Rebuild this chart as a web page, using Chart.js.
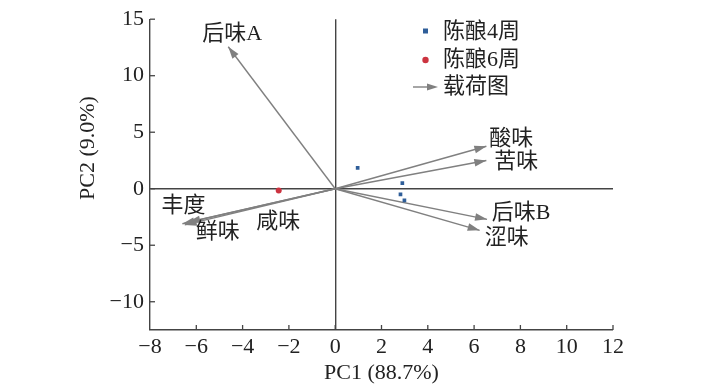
<!DOCTYPE html>
<html><head><meta charset="utf-8">
<script src="https://cdn.jsdelivr.net/npm/chart.js@4/dist/chart.umd.min.js"></script>
<style>html,body{margin:0;padding:0;background:#fff}#wrap{width:702px;height:389px}</style>
</head><body><div id="wrap"><canvas id="c" width="702" height="389"></canvas></div>
<script>
// ---- data ----
const xTicks = [-8,-6,-4,-2,0,2,4,6,8,10,12];
const yTicks = [-10,-5,0,5,10,15];
const week4X = [0.97, 2.90, 2.82, 2.99];
const week4Y = [1.85, 0.49, -0.50, -1.03];
const week6X = [-2.44];
const week6Y = [-0.15];
const loadNames = ['后味A','酸味','苦味','后味B','涩味','丰度','鲜味','咸味'];
const loadX = [-4.62, 6.53, 6.53, 6.56, 6.24, -6.60, -6.50, -6.35];
const loadY = [12.56, 3.76, 2.50, -2.71, -3.68, -3.10, -3.20, -2.95];
const seriesNames = ['陈酿4周','陈酿6周','载荷图'];
const xTitle = 'PC1 (88.7%)';
const yTitle = 'PC2 (9.0%)';

// ---- styles ----
const FONT = "22px 'Liberation Serif','Noto Sans CJK SC',serif";
const TXT = '#222';
const AXIS = '#444';
const ARROW = '#808080';
const BLUE = '#2f5e99';
const RED = '#cc3340';
const labelOffsets = [[4,-13],[25,-7],[30,2],[34,-6],[27,8],[1,-18],[33,7],[90,0]];
const fmt = v => (v < 0 ? '\u2212' + Math.abs(v) : String(v));

const datasets = [
  {label: seriesNames[0], data: week4X.map((x,i)=>({x, y: week4Y[i]})), pointStyle:'rect', pointRadius:2.6, backgroundColor:BLUE, borderWidth:0},
  {label: seriesNames[1], data: week6X.map((x,i)=>({x, y: week6Y[i]})), pointStyle:'circle', pointRadius:3, backgroundColor:RED, borderWidth:0}
];
loadNames.forEach((n,i)=>{
  datasets.push({type:'line', label:n, data:[{x:0,y:0},{x:loadX[i],y:loadY[i]}], borderColor:ARROW, borderWidth:1.4, pointRadius:0, fill:false, isLoad:true});
});

function arrowHead(ctx, x0, y0, x1, y1, len, hw){
  const a = Math.atan2(y1-y0, x1-x0);
  ctx.beginPath();
  ctx.moveTo(x1, y1);
  ctx.lineTo(x1 - len*Math.cos(a) + hw*Math.sin(a), y1 - len*Math.sin(a) - hw*Math.cos(a));
  ctx.lineTo(x1 - len*Math.cos(a) - hw*Math.sin(a), y1 - len*Math.sin(a) + hw*Math.cos(a));
  ctx.closePath();
  ctx.fill();
}

const deco = {
  id:'deco',
  afterDatasetsDraw(chart){
    const {ctx, scales:{x, y}, chartArea:ca} = chart;
    ctx.save();
    // tick marks (inside)
    ctx.strokeStyle = AXIS; ctx.lineWidth = 1.3;
    xTicks.forEach(v=>{ if(v===xTicks[0]) return; const px=x.getPixelForValue(v); ctx.beginPath(); ctx.moveTo(px, ca.bottom); ctx.lineTo(px, ca.bottom-5); ctx.stroke(); });
    yTicks.forEach(v=>{ const py=y.getPixelForValue(v); ctx.beginPath(); ctx.moveTo(ca.left, py); ctx.lineTo(ca.left+5, py); ctx.stroke(); });
    // arrowheads + labels
    const ox = x.getPixelForValue(0), oy = y.getPixelForValue(0);
    ctx.fillStyle = ARROW;
    loadX.forEach((lx,i)=>{
      const tx = x.getPixelForValue(lx), ty = y.getPixelForValue(loadY[i]);
      arrowHead(ctx, ox, oy, tx, ty, 12, 3.8);
    });
    ctx.fillStyle = TXT; ctx.font = FONT; ctx.textAlign='center'; ctx.textBaseline='middle';
    loadNames.forEach((n,i)=>{
      const tx = x.getPixelForValue(loadX[i]), ty = y.getPixelForValue(loadY[i]);
      ctx.fillText(n, tx + labelOffsets[i][0], ty + labelOffsets[i][1]);
    });
    // legend
    ctx.textAlign='left';
    ctx.fillStyle = BLUE; ctx.fillRect(423, 28.5, 5, 5);
    ctx.fillStyle = RED; ctx.beginPath(); ctx.arc(425.5, 60, 3.2, 0, Math.PI*2); ctx.fill();
    ctx.strokeStyle = ARROW; ctx.lineWidth = 1.4; ctx.beginPath(); ctx.moveTo(413, 87); ctx.lineTo(428, 87); ctx.stroke();
    ctx.fillStyle = ARROW; arrowHead(ctx, 413, 87, 438, 87, 11, 3.5);
    ctx.fillStyle = TXT;
    ctx.fillText(seriesNames[0], 443, 32);
    ctx.fillText(seriesNames[1], 443, 60);
    ctx.fillText(seriesNames[2], 443, 87);
    // axis titles
    ctx.textAlign='center';
    ctx.fillText(xTitle, (ca.left+ca.right)/2, 373);
    ctx.save(); ctx.translate(88, 148); ctx.rotate(-Math.PI/2); ctx.fillText(yTitle, 0, 0); ctx.restore();
    ctx.restore();
  }
};

const zeroGrid = {
  drawTicks:false,
  color: c => (c.tick && c.tick.value === 0) ? AXIS : 'rgba(0,0,0,0)',
  lineWidth: c => (c.tick && c.tick.value === 0) ? 1.4 : 0
};

new Chart(document.getElementById('c'), {
  type:'scatter',
  data:{datasets},
  options:{
    responsive:false, animation:false, devicePixelRatio:1,
    layout:{padding:{top:16, right:89, left:0, bottom:0}},
    plugins:{legend:{display:false}, tooltip:{enabled:false}},
    scales:{
      x:{type:'linear', min:-8, max:12,
         afterBuildTicks: s => { s.ticks = xTicks.map(v=>({value:v})); },
         afterFit: s => { s.height = 59; },
         ticks:{callback: v => fmt(v), color:TXT, font:{family:"'Liberation Serif',serif", size:22}, padding:4, maxRotation:0, autoSkip:false},
         grid: zeroGrid,
         border:{display:true, color:AXIS, width:1.4}},
      y:{type:'linear', min:-12.5, max:15,
         afterBuildTicks: s => { s.ticks = yTicks.map(v=>({value:v})); },
         afterFit: s => { s.width = 150; },
         ticks:{callback: v => fmt(v), color:TXT, font:{family:"'Liberation Serif',serif", size:22}, padding:6, autoSkip:false},
         grid: zeroGrid,
         border:{display:true, color:AXIS, width:1.4}}
    }
  },
  plugins:[deco]
});
</script>
</body></html>
